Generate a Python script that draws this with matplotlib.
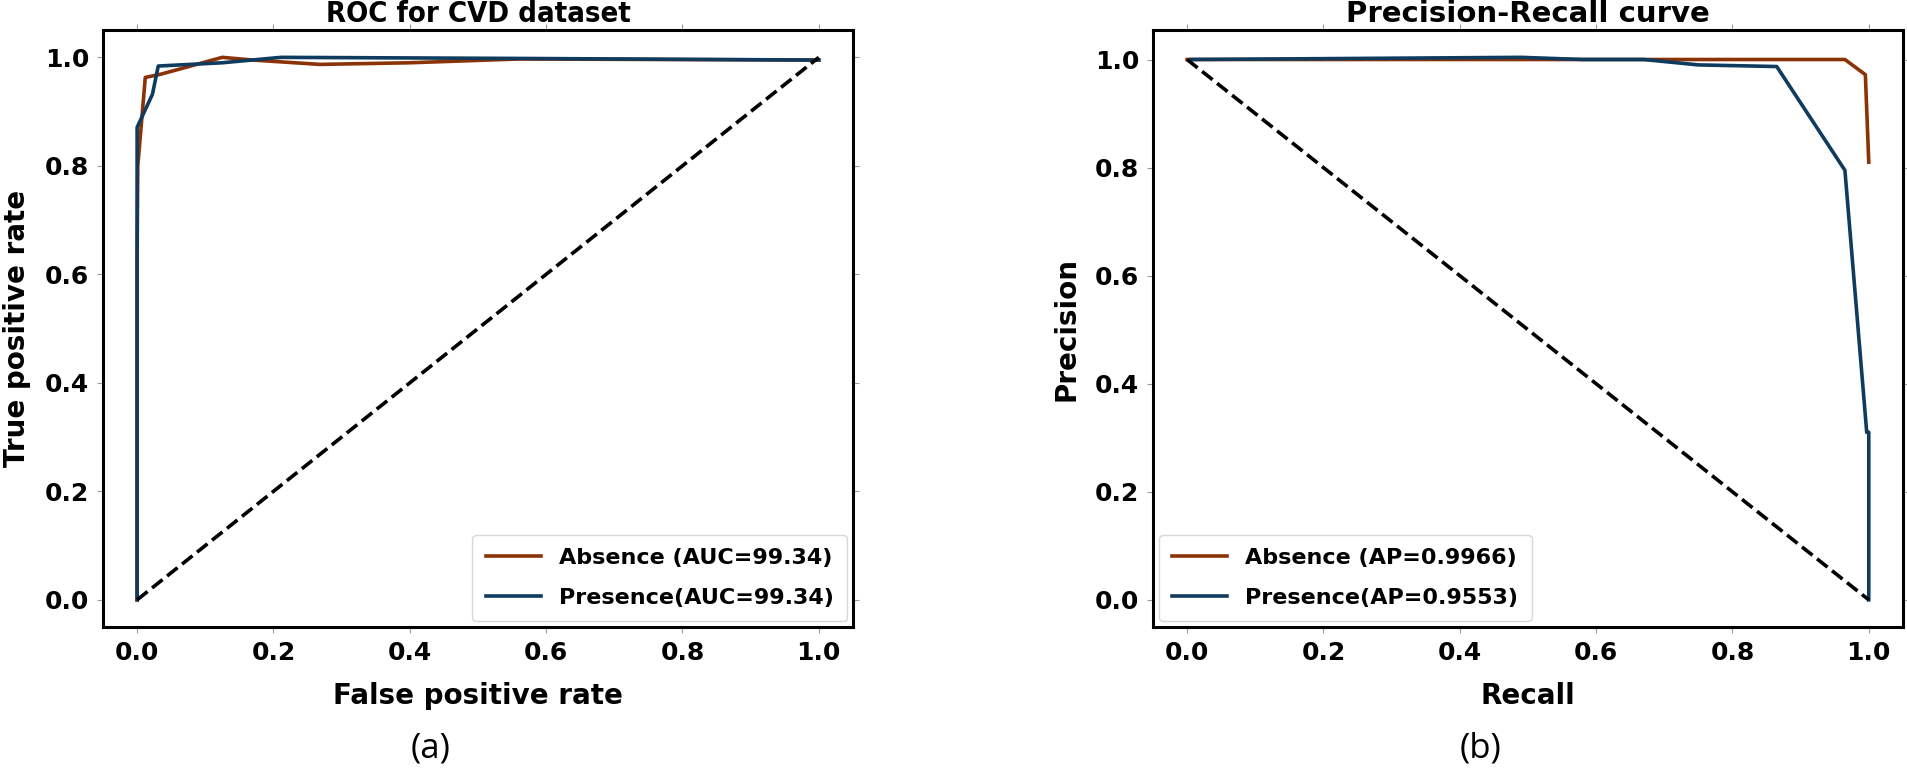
import matplotlib
matplotlib.use("Agg")
import matplotlib.pyplot as plt

# ROC values
fpr_absence = [0.0, 0.0, 0.001, 0.012, 0.035, 0.125, 0.17, 0.268, 0.40, 0.56, 1.0]
tpr_absence = [0.0, 0.636, 0.80, 0.963, 0.969, 1.0, 0.995, 0.987, 0.99, 0.997, 0.995]
fpr_presence = [0.0, 0.0, 0.0225, 0.031, 0.125, 0.211, 0.56, 1.0]
tpr_presence = [0.0, 0.871, 0.932, 0.984, 0.99, 1.0, 0.998, 0.995]

# precision-recall values
rec_absence = [0.0, 0.3, 0.6, 0.8, 0.965, 0.995, 1.0]
prec_absence = [1.0, 1.0, 1.0, 1.0, 1.0, 0.972, 0.81]
rec_presence = [0.005, 0.25, 0.49, 0.58, 0.67, 0.75, 0.865, 0.965, 0.997, 1.0, 1.0]
prec_presence = [1.0, 1.002, 1.004, 1.0, 1.0, 0.99, 0.987, 0.795, 0.31, 0.31, 0.0]

roc_labels = ['Absence (AUC=99.34)', 'Presence(AUC=99.34)']
pr_labels = ['Absence (AP=0.9966)', 'Presence(AP=0.9553)']

brown = '#8B3307'
blue = '#0F3B5F'

plt.rcParams['font.family'] = ['DejaVu Sans']
plt.rcParams['font.weight'] = 'bold'

fig = plt.figure(figsize=(19.08, 7.69), dpi=100)
ax1 = fig.add_axes([0.054, 0.1847, 0.393, 0.776])
ax2 = fig.add_axes([0.6043, 0.1847, 0.393, 0.776])

legend_kw = dict(prop={'size': 16, 'weight': 'bold'}, handlelength=2.5,
                 handletextpad=0.8, borderpad=0.6, labelspacing=0.9,
                 borderaxespad=0.25)


def style_axes(ax):
    for side in ['left', 'bottom', 'top', 'right']:
        ax.spines[side].set_linewidth(2.2)
        ax.spines[side].set_color('black')
    ax.tick_params(axis='both', which='both', top=True, right=True,
                   length=4, width=0.8, color='#999999', labelsize=18, pad=6)
    for lab in ax.get_xticklabels() + ax.get_yticklabels():
        lab.set_fontweight('bold')


ax1.plot(fpr_absence, tpr_absence, color=brown, lw=2.6, label=roc_labels[0])
ax1.plot(fpr_presence, tpr_presence, color=blue, lw=2.6, label=roc_labels[1])
ax1.plot([0, 1], [0, 1], 'k--', lw=2.6)
ax1.set_xlabel('False positive rate', fontsize=20, fontweight='bold', labelpad=12)
ax1.set_ylabel('True positive rate', fontsize=20, fontweight='bold', labelpad=10)
ax1.set_title('ROC for CVD dataset', fontsize=21, fontweight='bold',
              fontstretch='condensed', pad=6)
ax1.set_yticks([0.0, 0.2, 0.4, 0.6, 0.8, 1.0])
ax1.set_xticks([0.0, 0.2, 0.4, 0.6, 0.8, 1.0])
style_axes(ax1)
ax1.legend(loc='lower right', **legend_kw)

ax2.plot(rec_absence, prec_absence, color=brown, lw=2.6, label=pr_labels[0])
ax2.plot(rec_presence, prec_presence, color=blue, lw=2.6, label=pr_labels[1])
ax2.plot([0, 1], [1, 0], 'k--', lw=2.6)
ax2.set_xlabel('Recall', fontsize=20, fontweight='bold', labelpad=12)
ax2.set_ylabel('Precision', fontsize=20, fontweight='bold', labelpad=10)
ax2.set_title('Precision-Recall curve', fontsize=21, fontweight='bold', pad=6)
ax2.set_yticks([0.0, 0.2, 0.4, 0.6, 0.8, 1.0])
ax2.set_xticks([0.0, 0.2, 0.4, 0.6, 0.8, 1.0])
style_axes(ax2)
ax2.legend(loc='lower left', **legend_kw)

fig.text(0.2254, 0.027, '(a)', fontsize=25, fontweight='normal',
         family='Open Sans', ha='center', va='center')
fig.text(0.7757, 0.027, '(b)', fontsize=25, fontweight='normal',
         family='Open Sans', ha='center', va='center')

fig.savefig('out.png', dpi=100)
